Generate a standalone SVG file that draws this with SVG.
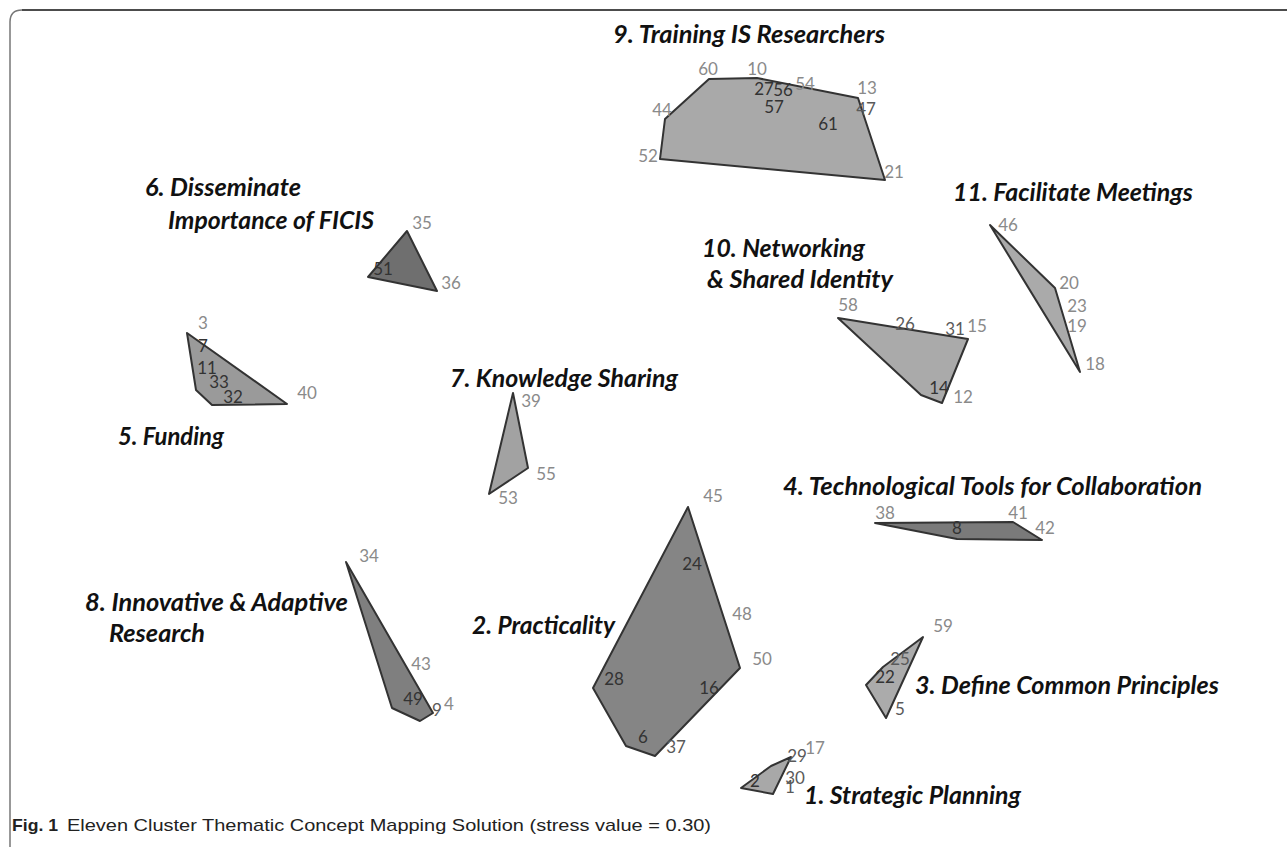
<svg xmlns="http://www.w3.org/2000/svg" width="1287" height="847" viewBox="0 0 1287 847">
<style>
.title{font-family:Lato,"Open Sans","Liberation Sans",sans-serif;font-weight:700;font-style:italic;font-size:24px;fill:#111}
.lbl{font-family:Lato,"Open Sans","Liberation Sans",sans-serif;font-size:17px;text-anchor:middle;dominant-baseline:central}
.g{fill:#8a8a8a}
.m{fill:#5a5a5a}
.d{fill:#333}
.poly{stroke:#333;stroke-width:2;stroke-linejoin:round}
.cap{font-family:"Liberation Sans",Arial,sans-serif;font-size:17px;fill:#222}
</style>
<rect width="1287" height="847" fill="#fff"/>
<g id="frame" fill="none">
<path d="M10,847 V22 Q10,10 22,10" stroke="#777" stroke-width="1.5"/>
<path d="M22,10 H1287" stroke="#111" stroke-width="1.5"/>
</g>
<g id="connectors"></g>
<g id="cluster9">
<polygon class="poly" fill="#a9a9a9" points="709,79 757,78 858,98 885,180 660,159 665,119"/>
<text class="title" x="613" y="43" textLength="272" lengthAdjust="spacingAndGlyphs">9. Training IS Researchers</text>
<text class="lbl g" x="708" y="68">60</text>
<text class="lbl g" x="757" y="68">10</text>
<text class="lbl g" x="805" y="83">54</text>
<text class="lbl g" x="867" y="87">13</text>
<text class="lbl m" x="866" y="108">47</text>
<text class="lbl g" x="662" y="109">44</text>
<text class="lbl g" x="648" y="155">52</text>
<text class="lbl g" x="894" y="171">21</text>
<text class="lbl d" x="764" y="88">27</text>
<text class="lbl d" x="783" y="89">56</text>
<text class="lbl d" x="774" y="106">57</text>
<text class="lbl d" x="828" y="123">61</text>
</g>
<g id="cluster6">
<polygon class="poly" fill="#6f6f6f" points="407,231 437,291 368,277"/>
<text class="title" x="145" y="196" textLength="156" lengthAdjust="spacingAndGlyphs">6. Disseminate</text>
<text class="title" x="168" y="229" textLength="206" lengthAdjust="spacingAndGlyphs">Importance of FICIS</text>
<text class="lbl g" x="422" y="222">35</text>
<text class="lbl g" x="451" y="282">36</text>
<text class="lbl d" x="383" y="268">51</text>
</g>
<g id="cluster5">
<polygon class="poly" fill="#9a9a9a" points="187,333 287,404 212,405 196,390"/>
<text class="title" x="118" y="445" textLength="106" lengthAdjust="spacingAndGlyphs">5. Funding</text>
<text class="lbl g" x="203" y="322">3</text>
<text class="lbl d" x="203" y="345">7</text>
<text class="lbl d" x="207" y="367">11</text>
<text class="lbl d" x="219" y="381">33</text>
<text class="lbl d" x="233" y="396">32</text>
<text class="lbl g" x="307" y="392">40</text>
</g>
<g id="cluster7">
<polygon class="poly" fill="#a2a2a2" points="513,393 528,468 489,494"/>
<text class="title" x="450" y="387" textLength="228" lengthAdjust="spacingAndGlyphs">7. Knowledge Sharing</text>
<text class="lbl g" x="531" y="400">39</text>
<text class="lbl g" x="546" y="473">55</text>
<text class="lbl g" x="508" y="497">53</text>
</g>
<g id="cluster10">
<polygon class="poly" fill="#aaaaaa" points="838,318 968,339 942,403 921,395"/>
<text class="title" x="702" y="257" textLength="163" lengthAdjust="spacingAndGlyphs">10. Networking</text>
<text class="title" x="707" y="288" textLength="186" lengthAdjust="spacingAndGlyphs">&amp; Shared Identity</text>
<text class="lbl g" x="848" y="304">58</text>
<text class="lbl m" x="905" y="323">26</text>
<text class="lbl m" x="955" y="328">31</text>
<text class="lbl g" x="977" y="325">15</text>
<text class="lbl d" x="939" y="387">14</text>
<text class="lbl g" x="963" y="396">12</text>
</g>
<g id="cluster11">
<polygon class="poly" fill="#aaaaaa" points="990,225 1055,288 1080,372"/>
<text class="title" x="953" y="201" textLength="240" lengthAdjust="spacingAndGlyphs">11. Facilitate Meetings</text>
<text class="lbl g" x="1008" y="224">46</text>
<text class="lbl g" x="1069" y="282">20</text>
<text class="lbl g" x="1077" y="305">23</text>
<text class="lbl g" x="1077" y="325">19</text>
<text class="lbl g" x="1095" y="363">18</text>
</g>
<g id="cluster4">
<polygon class="poly" fill="#7a7a7a" points="875,523 1013,522 1042,540 957,539"/>
<text class="title" x="783" y="495" textLength="419" lengthAdjust="spacingAndGlyphs">4. Technological Tools for Collaboration</text>
<text class="lbl g" x="885" y="512">38</text>
<text class="lbl g" x="1018" y="512">41</text>
<text class="lbl g" x="1045" y="527">42</text>
<text class="lbl d" x="957" y="527">8</text>
</g>
<g id="cluster2">
<polygon class="poly" fill="#858585" points="688,507 740,668 655,756 626,746 593,688"/>
<text class="title" x="472" y="634" textLength="143" lengthAdjust="spacingAndGlyphs">2. Practicality</text>
<text class="lbl g" x="713" y="495">45</text>
<text class="lbl d" x="692" y="563">24</text>
<text class="lbl g" x="742" y="613">48</text>
<text class="lbl g" x="762" y="658">50</text>
<text class="lbl d" x="614" y="678">28</text>
<text class="lbl d" x="709" y="687">16</text>
<text class="lbl d" x="643" y="736">6</text>
<text class="lbl m" x="676" y="746">37</text>
</g>
<g id="cluster8">
<polygon class="poly" fill="#7f7f7f" points="346,562 433,713 420,721 392,708"/>
<text class="title" x="85" y="611" textLength="263" lengthAdjust="spacingAndGlyphs">8. Innovative &amp; Adaptive</text>
<text class="title" x="109" y="642" textLength="96" lengthAdjust="spacingAndGlyphs">Research</text>
<text class="lbl g" x="369" y="555">34</text>
<text class="lbl g" x="421" y="663">43</text>
<text class="lbl d" x="413" y="698">49</text>
<text class="lbl m" x="437" y="709">9</text>
<text class="lbl g" x="449" y="703">4</text>
</g>
<g id="cluster3">
<polygon class="poly" fill="#ababab" points="923,637 886,718 866,685 883,667"/>
<text class="title" x="915" y="694" textLength="304" lengthAdjust="spacingAndGlyphs">3. Define Common Principles</text>
<text class="lbl g" x="943" y="625">59</text>
<text class="lbl m" x="900" y="658">25</text>
<text class="lbl d" x="885" y="676">22</text>
<text class="lbl m" x="900" y="708">5</text>
</g>
<g id="cluster1">
<polygon class="poly" fill="#a8a8a8" points="741,788 771,766 791,757 773,794"/>
<text class="title" x="804" y="804" textLength="217" lengthAdjust="spacingAndGlyphs">1. Strategic Planning</text>
<text class="lbl g" x="815" y="747">17</text>
<text class="lbl m" x="797" y="755">29</text>
<text class="lbl m" x="795" y="777">30</text>
<text class="lbl m" x="790" y="786">1</text>
<text class="lbl d" x="755" y="780">2</text>
</g>
<g id="caption">
<text class="cap" x="12" y="831" font-weight="700" textLength="46" lengthAdjust="spacingAndGlyphs">Fig. 1</text>
<text class="cap" x="67" y="831" textLength="644" lengthAdjust="spacingAndGlyphs">Eleven Cluster Thematic Concept Mapping Solution (stress value = 0.30)</text>
</g>
</svg>
